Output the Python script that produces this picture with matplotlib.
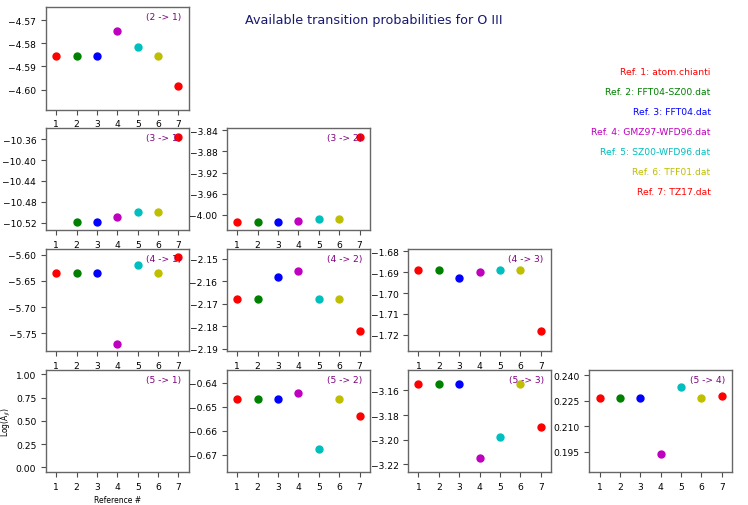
import matplotlib.pyplot as plt
import numpy as np

nan = np.nan

# reference files
ref_names = ['atom.chianti', 'FFT04-SZ00.dat', 'FFT04.dat', 'GMZ97-WFD96.dat',
             'SZ00-WFD96.dat', 'TFF01.dat', 'TZ17.dat']
ref_colors = ['r', 'g', 'b', 'm', 'c', 'y', 'r']
ref_nums = [1, 2, 3, 4, 5, 6, 7]

# log(A_ji) for each transition, one value per reference (nan = not available)
a21 = [-4.5856, -4.5856, -4.5856, -4.5746, -4.5817, -4.5856, -4.5986]
a31 = [nan, -10.519, -10.519, -10.510, -10.500, -10.500, -10.355]
a32 = [-4.0138, -4.0138, -4.0138, -4.0106, -4.0076, -4.0076, -3.8527]
a41 = [-5.635, -5.635, -5.635, -5.771, -5.619, -5.635, -5.6045]
a42 = [-2.1681, -2.1681, -2.158, -2.1553, -2.1681, -2.1681, -2.182]
a43 = [-1.6889, -1.6889, -1.6926, -1.6900, -1.6889, -1.6889, -1.7181]
a51 = [nan, nan, nan, nan, nan, nan, nan]
a52 = [-0.6468, -0.6468, -0.6468, -0.6443, -0.6676, -0.6468, -0.6538]
a53 = [-3.1545, -3.1545, -3.1545, -3.215, -3.1977, -3.1545, -3.1896]
a54 = [0.2266, 0.2266, 0.2266, 0.1935, 0.2329, 0.2266, 0.2278]

transitions = [(2, 1), (3, 1), (3, 2), (4, 1), (4, 2), (4, 3), (5, 1), (5, 2), (5, 3), (5, 4)]
values = [a21, a31, a32, a41, a42, a43, a51, a52, a53, a54]

ylims = [(-4.6086, -4.5644), (-10.535, -10.338), (-4.029, -3.836), (-5.784, -5.589),
         (-2.1912, -2.1456), (-1.7278, -1.6789), (-0.05, 1.05), (-0.6772, -0.6346),
         (-3.2263, -3.1431), (0.183, 0.2434)]
yticks = [[-4.60, -4.59, -4.58, -4.57],
          [-10.52, -10.48, -10.44, -10.40, -10.36],
          [-4.00, -3.96, -3.92, -3.88, -3.84],
          [-5.75, -5.70, -5.65, -5.60],
          [-2.19, -2.18, -2.17, -2.16, -2.15],
          [-1.72, -1.71, -1.70, -1.69, -1.68],
          [0.0, 0.25, 0.5, 0.75, 1.0],
          [-0.67, -0.66, -0.65, -0.64],
          [-3.22, -3.20, -3.18, -3.16],
          [0.195, 0.210, 0.225, 0.240]]

fig = plt.figure(figsize=(7.48, 5.06), dpi=100)
plt.subplots_adjust(left=0.0615, right=0.9786, top=0.984, bottom=0.065,
                    wspace=0.27, hspace=0.18)

for k, (up, lo) in enumerate(transitions):
    ax = plt.subplot(4, 4, (up - 2) * 4 + lo)
    for r in range(len(ref_nums)):
        ax.plot(ref_nums[r], values[k][r], 'o', color=ref_colors[r], markersize=5)
    ax.set_xlim(0.5, 7.5)
    ax.set_xticks(ref_nums)
    ax.set_ylim(ylims[k])
    ax.set_yticks(yticks[k])
    ax.ticklabel_format(axis='y', useOffset=False)
    ax.tick_params(labelsize=6.6, length=3.5, width=0.8, color='0.3')
    for sp in ax.spines.values():
        sp.set_color('0.4')
        sp.set_linewidth(1.0)
    ax.text(0.95, 0.95, '(%d -> %d)' % (up, lo), transform=ax.transAxes,
            ha='right', va='top', color='purple', fontsize=6.6)
    if (up, lo) == (5, 1):
        ax.set_ylabel('Log(A$_{ji}$)', fontsize=5.5, labelpad=2)
        ax.set_xlabel('Reference #', fontsize=5.5, labelpad=3)

fig.text(0.5, 0.959, 'Available transition probabilities for O III',
         ha='center', va='center', color='midnightblue', fontsize=9.2)

for r in range(len(ref_nums)):
    fig.text(0.95, 0.856 - r * 0.0395, 'Ref. %d: %s' % (ref_nums[r], ref_names[r]),
             ha='right', va='center', color=ref_colors[r], fontsize=6.7)

plt.savefig('out.png', dpi=100)
